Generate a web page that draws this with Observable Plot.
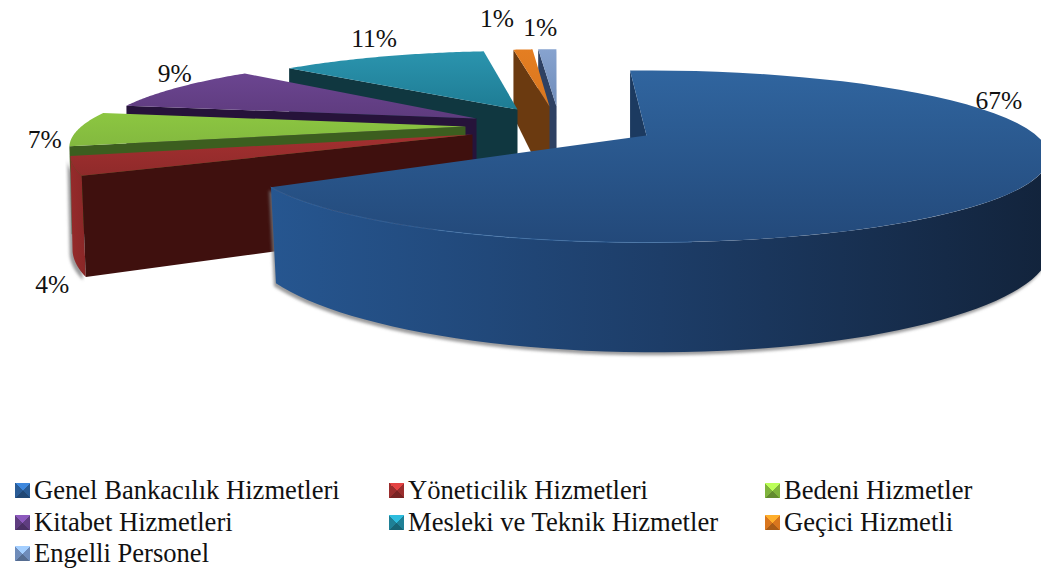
<!DOCTYPE html>
<html><head><meta charset="utf-8">
<script src="https://cdn.jsdelivr.net/npm/d3@7"></script>
<script src="https://cdn.jsdelivr.net/npm/@observablehq/plot@0.6"></script>
<style>
html,body{margin:0;padding:0;background:#fff;overflow:hidden}
#chart svg{display:block}
#legend{display:grid;grid-template-columns:374px 376px 260px;grid-auto-rows:31.5px;align-content:start;padding-left:15px;height:97px;
 font-family:"Liberation Serif",serif;font-size:26.6px;line-height:31.5px;color:#111;margin-top:1px}
#legend div{display:flex;align-items:center;white-space:nowrap}
#legend i{display:inline-block;width:15px;height:15px;margin-right:4px;flex:none}
</style></head><body>
<div id="chart"></div><div id="legend"></div>
<script>
const categories=["Genel Bankacılık Hizmetleri","Yöneticilik Hizmetleri","Bedeni Hizmetler","Kitabet Hizmetleri","Mesleki ve Teknik Hizmetler","Geçici Hizmetli","Engelli Personel"];
const shares=[66.5,3.5,6.6,9.2,11.7,1.1,1.05];
const labels=["67%","4%","7%","9%","11%","1%","1%"];
// layout of the exploded 3-D pie
const apexX=[646,472,465,476,517,549,556];
const apexY=[135,134,126,118,109,106,106];
const radius=[1,1,0.985,0.95,0.9,0.88,0.88];
const depth=[83,90,83,83,83,83,83];
const angleNudge=[0,6.6,7.5,7.24,5.12,4.5,4.24];
const labelDx=[-39,-21,-34,-3,-8,-26,-7];
const labelDy=[-75,119,11,-14,-18,-31,-21];
const topA=["#30659f","#a33030","#8cc641","#6b4590","#2b94ae","#e47e22","#87a3cf"];
const topB=["#23497a","#8f2a2a","#83b93f","#5e3b7e","#1e7c94","#d9761e","#6f8cba"];
const wallCol=["#1c3a60","#3f100e","#3c5e1f","#26133a","#103740","#6b3a10","#2e4163"];
const outerA=["#265690","#952b2b","#5d8a2c","#4a2f66","#176070","#a85a14","#4d658e"];
const outerB=["#12233b","#8a2727","#5d8a2c","#4a2f66","#176070","#a85a14","#4d658e"];
const swatch=["#2a5c96","#9a2d2d","#7fb33c","#5f3d80","#1f8096","#d9761e","#6f8cba"];

const W=1041,H=474,A=390,B=80.9,k=0.244,start=-3;
function P(i,deg,r,z){
  const t=deg*Math.PI/180,X=r*Math.sin(t),Y=r*Math.cos(t),w=1+k*Y,s=radius[i];
  return [apexX[i]+s*A*X/w+(z?9*Math.max(0,-Y):0), apexY[i]-s*B*Y/w+(z?depth[i]/w:0)];
}
let cum=start;
const arcs=shares.map((s,i)=>{const a0=cum+angleNudge[i],a1=a0+s*3.6;cum+=s*3.6;return [a0,a1];});
const arcPts=(i,a0,a1,z)=>d3.range(0,61).map(j=>P(i,a0+(a1-a0)*j/60,1,z));
const xy={x:d=>d[0],y:d=>d[1],stroke:"none"};
const poly=(pts,fill,extra={})=>Plot.line(pts,{...xy,fill,...extra});

function defs(){
  const s=d3.create("svg:defs");
  const grad=(id,dir,a,b,c)=>{
    const g=s.append("linearGradient").attr("id",id).attr("x1",0).attr("y1",0).attr("x2",dir?1:0).attr("y2",dir?0:1);
    g.append("stop").attr("offset",0).attr("stop-color",a);
    if(c){g.append("stop").attr("offset",.5).attr("stop-color",c);}
    g.append("stop").attr("offset",1).attr("stop-color",b);
  };
  topA.forEach((c,i)=>grad("t"+i,false,c,topB[i]));
  outerA.forEach((c,i)=>grad("o"+i,true,c,outerB[i],i==0?"#1d3d68":null));
  s.append("filter").attr("id","soft").attr("x","-10%").attr("y","-10%").attr("width","120%").attr("height","120%")
   .append("feGaussianBlur").attr("stdDeviation",1.6);
  return s.node();
}

const marks=[defs];
const sil0=104,sil1=256; // the rim wall only shows on the front part
// painter's order: back slices first, blue last
[6,5,4,3,2,1,0].forEach(i=>{
  const [a0,a1]=arcs[i];
  const top=[[apexX[i],apexY[i]],...arcPts(i,a0,a1,false)];
  const wall=[P(i,a0,0,false),P(i,a0,1,false),P(i,a0,1,true),P(i,a0,0,true)];
  const b0=Math.max(a0,sil0),b1=Math.min(a1,sil1);
  if(b1>b0){
    const outer=[...arcPts(i,b0,b1,false),...arcPts(i,b0,b1,true).reverse()];
    marks.push(Plot.line(outer,{...xy,fill:"#7a7a7b",fillOpacity:.75,dx:i==0?-2:-3,dy:3}));
    marks.push(poly(outer,`url(#o${i})`));
  }
  if(i==6){
    marks.push(Plot.line([P(6,a1,0,false),P(6,a1,0,true)],{x:d=>d[0],y:d=>d[1],stroke:"#7a7a7b",strokeWidth:7,strokeOpacity:.6,dx:3,dy:14}));
    marks.push(poly([P(6,a1,0,false),P(6,a1,1,false),P(6,a1,1,true),P(6,a1,0,true)],wallCol[6]));
  }
  marks.push(poly(wall,wallCol[i]));
  marks.push(poly(top,`url(#t${i})`));
});
// light rim along the blue front edge
marks.push(Plot.line(arcPts(0,175,arcs[0][1],false),{x:d=>d[0],y:d=>d[1],stroke:"#3f78b4",strokeWidth:1,strokeOpacity:.55}));
// percentage labels
const labelRows=labels.map((t,i)=>{const m=(arcs[i][0]+arcs[i][1])/2,p=P(i,m,1,false);return {t,x:p[0]+labelDx[i],y:p[1]+labelDy[i]};});
marks.push(Plot.text(labelRows,{x:"x",y:"y",text:"t",fontSize:25.5,fontFamily:"Liberation Serif",fill:"#111",textAnchor:"middle",lineAnchor:"middle"}));

const svg=Plot.plot({width:W,height:H,marginTop:0,marginRight:0,marginBottom:0,marginLeft:0,
 x:{domain:[0,W],range:[0,W],axis:null},y:{domain:[0,H],range:[0,H],axis:null},style:{background:"#fff",overflow:"hidden"},marks});
svg.querySelectorAll('[fill="#7a7a7b"],[stroke="#7a7a7b"]').forEach(n=>n.setAttribute("filter","url(#soft)"));
document.getElementById("chart").append(svg);

const lg=d3.select("#legend");
categories.forEach((c,i)=>{
  const b=swatch[i],lt=d3.color(b).brighter(1.1).formatHex(),dk=d3.color(b).darker(.7).formatHex();
  const d=lg.append("div");
  d.append("i").style("background",`conic-gradient(from -45deg,${lt} 0 25%,${b} 25% 50%,${dk} 50% 75%,${b} 75%)`);
  d.append("span").text(c);
});
</script></body></html>
